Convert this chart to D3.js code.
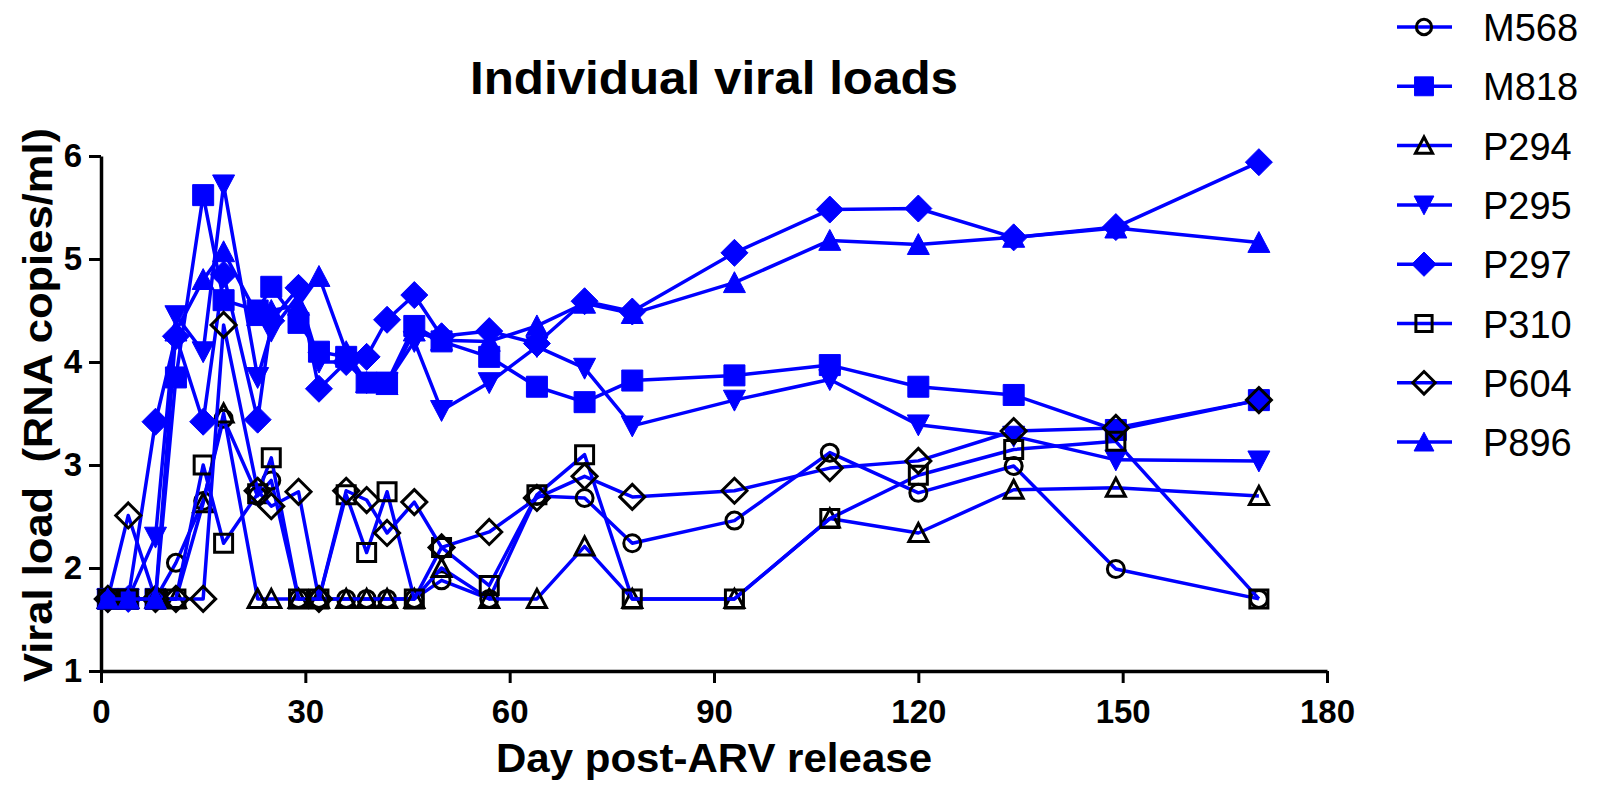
<!DOCTYPE html>
<html>
<head>
<meta charset="utf-8">
<script src="https://cdn.jsdelivr.net/npm/d3@7"></script>
<style>
  html, body { margin: 0; padding: 0; background: #fff; }
  svg { display: block; }
  text { font-family: "Liberation Sans", Arial, sans-serif; fill: #000; }
</style>
</head>
<body>
<svg id="chart" width="1600" height="791"></svg>
<script>
// Sampling days (post-ARV release)
const days = [1, 4, 8, 11, 15, 18, 23, 25, 29, 32, 36, 39, 42, 46, 50, 57, 64, 71, 78, 93, 107, 120, 134, 149, 170];

// Log10 viral load (RNA copies/ml) per animal
const M568 = [1.7, 1.7, 1.7, 2.05, 2.65, 3.45, 2.7, 2.85, 1.7, 1.7, 1.7, 1.7, 1.7, 1.7, 1.88, 1.7, 2.7, 2.68, 2.24, 2.46, 3.12, 2.73, 2.99, 1.99, 1.7];
const M818 = [1.7, 1.7, 1.7, 3.85, 5.62, 4.6, 4.5, 4.73, 4.38, 4.1, 4.05, 3.8, 3.8, 4.35, 4.2, 4.05, 3.76, 3.61, 3.82, 3.87, 3.97, 3.76, 3.68, 3.34, 3.63];
const P294 = [1.7, 1.7, 1.7, 1.7, 2.63, 3.5, 1.7, 1.7, 1.7, 1.7, 1.7, 1.7, 1.7, 1.7, 2.0, 1.7, 1.7, 2.21, 1.7, 1.7, 2.48, 2.34, 2.76, 2.78, 2.7];
const P295 = [1.7, 1.7, 2.3, 4.45, 4.1, 5.72, 3.85, 4.3, 4.65, 4.0, 4.0, 3.8, 3.8, 4.2, 3.53, 3.8, 4.15, 3.94, 3.38, 3.63, 3.83, 3.39, 3.28, 3.05, 3.04];
const P297 = [1.7, 1.7, 3.42, 4.25, 3.42, 4.85, 3.44, 4.4, 4.72, 3.74, 4.0, 4.05, 4.41, 4.65, 4.25, 4.3, 4.18, 4.59, 4.49, 5.06, 5.48, 5.49, 5.21, 5.31, 5.94];
const P310 = [1.7, 1.7, 1.7, 1.7, 3.0, 2.24, 2.72, 3.07, 1.7, 1.7, 2.71, 2.15, 2.74, 1.7, 2.2, 1.83, 2.71, 3.1, 1.7, 1.7, 2.48, 2.9, 3.15, 3.23, 1.7];
const P604 = [1.7, 2.51, 1.7, 1.7, 1.7, 4.36, 2.75, 2.6, 2.74, 1.7, 2.75, 2.66, 2.34, 2.64, 2.2, 2.35, 2.68, 2.89, 2.69, 2.75, 2.97, 3.04, 3.33, 3.36, 3.63];
const P896 = [1.7, 1.7, 1.7, 4.3, 4.8, 5.07, 4.45, 4.5, 4.55, 4.83, 4.1, 3.8, 3.78, 4.3, 4.21, 4.2, 4.35, 4.57, 4.47, 4.77, 5.18, 5.14, 5.21, 5.3, 5.16];

const seriesNames = ["M568", "M818", "P294", "P295", "P297", "P310", "P604", "P896"];
const seriesValues = [M568, M818, P294, P295, P297, P310, P604, P896];

const xTicks = [0, 30, 60, 90, 120, 150, 180];
const yTicks = [1, 2, 3, 4, 5, 6];

const titleText = "Individual viral loads";
const xTitle = "Day post-ARV release";
const yTitle = "Viral load  (RNA copies/ml)";

// Marker style per series
const markerStyles = [
  { shape: "circle",  size: 8.5,  filled: false },
  { shape: "square",  size: 10.5, filled: true  },
  { shape: "triUp",   size: 9.5,  filled: false },
  { shape: "triDown", size: 11,   filled: true  },
  { shape: "diamond", size: 13.5, filled: true  },
  { shape: "square",  size: 9,    filled: false },
  { shape: "diamond", size: 12.5, filled: false },
  { shape: "triUp",   size: 11,   filled: true  }
];

const BLUE = "#0000FF";

function markerPath(shape, s) {
  switch (shape) {
    case "circle":
      return `M${-s},0a${s},${s} 0 1,0 ${2 * s},0a${s},${s} 0 1,0 ${-2 * s},0Z`;
    case "square":
      return `M${-s},${-s}H${s}V${s}H${-s}Z`;
    case "triUp":
      return `M0,${-s}L${s},${s * 0.9}L${-s},${s * 0.9}Z`;
    case "triDown":
      return `M0,${s}L${s},${-s * 0.9}L${-s},${-s * 0.9}Z`;
    case "diamond":
      return `M0,${-s}L${s},0L0,${s}L${-s},0Z`;
  }
}

const svg = d3.select("#chart");

const x = d3.scaleLinear().domain([0, 180]).range([101, 1327]);
const y = d3.scaleLinear().domain([1, 6]).range([671, 156]);

// Axes
const xAxis = svg.append("g")
  .attr("transform", `translate(0,${y(1)})`)
  .call(d3.axisBottom(x).tickValues(xTicks).tickFormat(d3.format("d"))
    .tickSize(12).tickSizeOuter(0).tickPadding(17));

const yAxis = svg.append("g")
  .attr("transform", `translate(${x(0)},0)`)
  .call(d3.axisLeft(y).tickValues(yTicks).tickFormat(d3.format("d"))
    .tickSize(12).tickSizeOuter(0).tickPadding(7));

[xAxis, yAxis].forEach(g => {
  g.select(".domain").attr("stroke", "#000").attr("stroke-width", 3.5);
  g.selectAll(".tick line").attr("stroke", "#000").attr("stroke-width", 3);
  g.selectAll(".tick text")
    .attr("fill", "#000")
    .style("font-family", '"Liberation Sans", Arial, sans-serif')
    .style("font-size", "33px")
    .style("font-weight", "bold");
  g.attr("font-family", null).attr("font-size", null);
});

// Data series
const line = d3.line()
  .defined(d => d.v != null)
  .x(d => x(d.day))
  .y(d => y(d.v));

seriesValues.forEach((vals, i) => {
  const pts = days.map((day, j) => ({ day, v: vals[j] })).filter(d => d.v != null);
  const st = markerStyles[i];
  const g = svg.append("g").attr("class", "series " + seriesNames[i]);
  g.append("path")
    .datum(pts)
    .attr("fill", "none")
    .attr("stroke", BLUE)
    .attr("stroke-width", 3.5)
    .attr("stroke-linejoin", "round")
    .attr("d", line);
  g.selectAll("path.mk")
    .data(pts)
    .join("path")
    .attr("class", "mk")
    .attr("transform", d => `translate(${x(d.day)},${y(d.v)})`)
    .attr("d", markerPath(st.shape, st.size))
    .attr("fill", st.filled ? BLUE : "none")
    .attr("stroke", st.filled ? BLUE : "#000")
    .attr("stroke-width", st.filled ? 1 : 3);
});

// Titles
svg.append("text")
  .attr("x", 714).attr("y", 94)
  .attr("text-anchor", "middle")
  .style("font-size", "46px").style("font-weight", "bold")
  .attr("textLength", 488).attr("lengthAdjust", "spacingAndGlyphs")
  .text(titleText);

svg.append("text")
  .attr("x", 714).attr("y", 772)
  .attr("text-anchor", "middle")
  .style("font-size", "40px").style("font-weight", "bold")
  .attr("textLength", 436).attr("lengthAdjust", "spacingAndGlyphs")
  .text(xTitle);

svg.append("text")
  .attr("transform", `translate(52,405) rotate(-90)`)
  .attr("text-anchor", "middle")
  .style("font-size", "40px").style("font-weight", "bold")
  .attr("textLength", 554).attr("lengthAdjust", "spacingAndGlyphs")
  .style("white-space", "pre")
  .text(yTitle);

// Legend
const legend = svg.append("g").attr("class", "legend");
seriesNames.forEach((name, i) => {
  const cy = 27 + i * 59.3;
  const st = markerStyles[i];
  const row = legend.append("g").attr("transform", `translate(0,${cy})`);
  row.append("line")
    .attr("x1", 1397).attr("x2", 1452).attr("y1", 0).attr("y2", 0)
    .attr("stroke", BLUE).attr("stroke-width", 3.5);
  row.append("path")
    .attr("transform", "translate(1424,0)")
    .attr("d", markerPath(st.shape, st.size * 0.9))
    .attr("fill", st.filled ? BLUE : "none")
    .attr("stroke", st.filled ? BLUE : "#000")
    .attr("stroke-width", st.filled ? 1 : 3);
  row.append("text")
    .attr("x", 1483).attr("y", 14)
    .style("font-size", "38px")
    .text(name);
});
</script>
</body>
</html>
